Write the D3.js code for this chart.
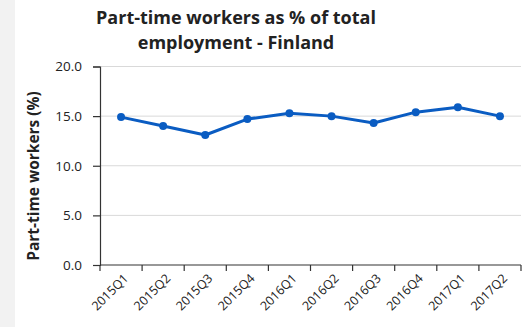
<!DOCTYPE html>
<html>
<head>
<meta charset="utf-8">
<script src="https://cdn.jsdelivr.net/npm/d3@7"></script>
<style>
  html, body { margin: 0; padding: 0; background: #f2f2f2; }
  svg { display: block; }
  text { font-family: "Open Sans", "Liberation Sans", sans-serif; fill: #222; }
</style>
</head>
<body>
<svg id="chart" width="528" height="327"></svg>
<script>
// Quarterly share of part-time workers in total employment, Finland
const quarters = ["2015Q1", "2015Q2", "2015Q3", "2015Q4", "2016Q1", "2016Q2", "2016Q3", "2016Q4", "2017Q1", "2017Q2"];
const partTimeShare = [14.9, 14.0, 13.1, 14.7, 15.3, 15.0, 14.3, 15.4, 15.9, 15.0];
const yTicks = [0, 5, 10, 15, 20];
const titleLines = ["Part-time workers as % of total", "employment - Finland"];
const yTitle = "Part-time workers (%)";

const svg = d3.select("#chart");
const W = 528, H = 327;

// white card, leaving the grey strip on the left
svg.append("rect").attr("x", 15).attr("y", 0).attr("width", W - 15).attr("height", H).attr("fill", "#ffffff");

const plot = { left: 100, right: 521, top: 66.5, bottom: 265 };

const x = d3.scaleBand().domain(quarters).range([plot.left, plot.right]).padding(0);
const y = d3.scaleLinear().domain([0, 20]).range([plot.bottom, plot.top]);

// horizontal gridlines
svg.append("g")
  .selectAll("line")
  .data(yTicks.filter(d => d > 0))
  .join("line")
  .attr("x1", plot.left).attr("x2", plot.right)
  .attr("y1", d => y(d)).attr("y2", d => y(d))
  .attr("stroke", "#d9d9d9").attr("stroke-width", 1);

// y axis
const yAxis = svg.append("g")
  .attr("transform", `translate(${plot.left},0)`)
  .call(d3.axisLeft(y).tickValues(yTicks).tickFormat(d3.format(".1f")).tickSize(7).tickPadding(11));
yAxis.select(".domain").attr("stroke", "#333").attr("stroke-width", 1.2);
yAxis.selectAll(".tick line").attr("stroke", "#333").attr("stroke-width", 1.2);
yAxis.selectAll(".tick text").style("font-size", "13.5px").style("font-family", "'Open Sans', sans-serif").attr("fill", "#1a1a1a");

// x axis with ticks on band boundaries
const xAxisG = svg.append("g").attr("transform", `translate(0,${plot.bottom})`);
xAxisG.append("line")
  .attr("x1", plot.left).attr("x2", plot.right)
  .attr("y1", 0).attr("y2", 0)
  .attr("stroke", "#333").attr("stroke-width", 1.2);
const boundaries = quarters.map(q => x(q)).concat([plot.right]);
xAxisG.selectAll("line.tk")
  .data(boundaries)
  .join("line")
  .attr("class", "tk")
  .attr("x1", d => d).attr("x2", d => d)
  .attr("y1", 0).attr("y2", 6)
  .attr("stroke", "#333").attr("stroke-width", 1.2);
xAxisG.selectAll("text")
  .data(quarters)
  .join("text")
  .attr("transform", d => `translate(${x(d) + x.bandwidth() / 2 + 5},${11}) rotate(-45)`)
  .attr("text-anchor", "end")
  .attr("dy", "0.35em")
  .style("font-size", "12.5px")
  .attr("fill", "#1a1a1a")
  .text(d => d);

// line and markers
const line = d3.line()
  .x((d, i) => x(quarters[i]) + x.bandwidth() / 2)
  .y(d => y(d));

svg.append("path")
  .datum(partTimeShare)
  .attr("d", line)
  .attr("fill", "none")
  .attr("stroke", "#0a5cc2")
  .attr("stroke-width", 3)
  .attr("stroke-linejoin", "round");

svg.append("g")
  .selectAll("circle")
  .data(partTimeShare)
  .join("circle")
  .attr("cx", (d, i) => x(quarters[i]) + x.bandwidth() / 2)
  .attr("cy", d => y(d))
  .attr("r", 4)
  .attr("fill", "#0a5cc2");

// title
svg.append("g")
  .selectAll("text")
  .data(titleLines)
  .join("text")
  .attr("x", 236)
  .attr("y", (d, i) => 24 + i * 25)
  .attr("text-anchor", "middle")
  .style("font-size", "18px")
  .style("font-weight", "bold")
  .attr("fill", "#111")
  .text(d => d);

// y axis title
svg.append("text")
  .attr("transform", `translate(39,${176}) rotate(-90)`)
  .attr("text-anchor", "middle")
  .style("font-size", "15.5px")
  .style("font-weight", "bold")
  .attr("fill", "#1a1a1a")
  .text(yTitle);
</script>
</body>
</html>
